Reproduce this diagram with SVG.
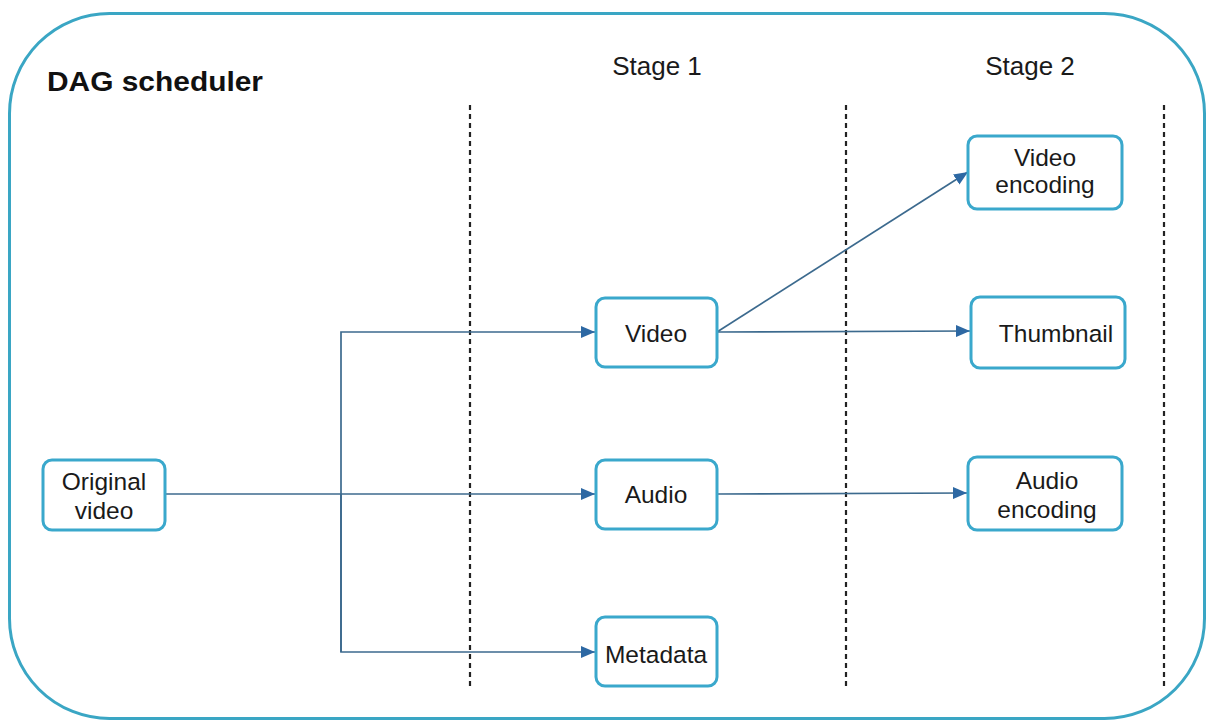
<svg xmlns="http://www.w3.org/2000/svg" width="1207" height="723" viewBox="0 0 1207 723">
<defs>
<style>
.frame{fill:#fff;stroke:#3aa6c4;stroke-width:3}
.node rect{fill:#fff;stroke:#3aa8cc;stroke-width:3}
.node text{font-family:"Liberation Sans",Arial,sans-serif;font-size:24.5px;fill:#1a1a1a;text-anchor:middle}
.title{font-family:"Liberation Sans",Arial,sans-serif;font-size:27px;font-weight:bold;fill:#111}
.stage{font-family:"Liberation Sans",Arial,sans-serif;font-size:26px;fill:#1a1a1a;text-anchor:middle}
.div{stroke:#222;stroke-width:2.2;stroke-dasharray:5 4;fill:none}
.edge{stroke:#3c6a8e;stroke-width:1.7;fill:none}
</style>
<marker id="arr" viewBox="0 0 14 12" refX="14" refY="6" markerWidth="14" markerHeight="12" markerUnits="userSpaceOnUse" orient="auto">
<path d="M0,0 L14,6 L0,12 Z" fill="#2d68a3"/>
</marker>
</defs>
<rect width="1207" height="723" fill="#fff"/>
<rect class="frame" x="9.5" y="13.5" width="1195" height="705" rx="100" ry="100"/>
<text class="title" x="47" y="91" textLength="216" lengthAdjust="spacingAndGlyphs">DAG scheduler</text>
<text class="stage" x="657" y="75">Stage 1</text>
<text class="stage" x="1030" y="75">Stage 2</text>
<g id="dividers">
<line class="div" x1="470" y1="105" x2="470" y2="690"/>
<line class="div" x1="846" y1="105" x2="846" y2="690"/>
<line class="div" x1="1164" y1="105" x2="1164" y2="690"/>
</g>
<g id="connectors">
<path class="edge" d="M166,494 L595,494" marker-end="url(#arr)"/>
<path class="edge" d="M341,652 L341,332 L595,332" marker-end="url(#arr)"/>
<path class="edge" d="M341,494 L341,652 L595,652" marker-end="url(#arr)"/>
<path class="edge" d="M717,332 L968,172" marker-end="url(#arr)"/>
<path class="edge" d="M717,332 L970,331" marker-end="url(#arr)"/>
<path class="edge" d="M717,494 L967,493" marker-end="url(#arr)"/>
</g>
<g id="original" class="node">
<rect x="43" y="460" width="122" height="70" rx="9"/>
<text x="104" y="490">Original</text>
<text x="104" y="519">video</text>
</g>
<g id="video" class="node">
<rect x="596" y="298" width="121" height="69" rx="9"/>
<text x="656" y="342">Video</text>
</g>
<g id="audio" class="node">
<rect x="596" y="460" width="121" height="69" rx="9"/>
<text x="656" y="503">Audio</text>
</g>
<g id="metadata" class="node">
<rect x="596" y="617" width="121" height="69" rx="9"/>
<text x="656" y="663">Metadata</text>
</g>
<g id="videoenc" class="node">
<rect x="968" y="136" width="154" height="73" rx="9"/>
<text x="1045" y="166">Video</text>
<text x="1045" y="193">encoding</text>
</g>
<g id="thumbnail" class="node">
<rect x="971" y="297" width="154" height="71" rx="9"/>
<text x="1056" y="342">Thumbnail</text>
</g>
<g id="audioenc" class="node">
<rect x="968" y="457" width="154" height="73" rx="9"/>
<text x="1047" y="489">Audio</text>
<text x="1047" y="518">encoding</text>
</g>
</svg>
